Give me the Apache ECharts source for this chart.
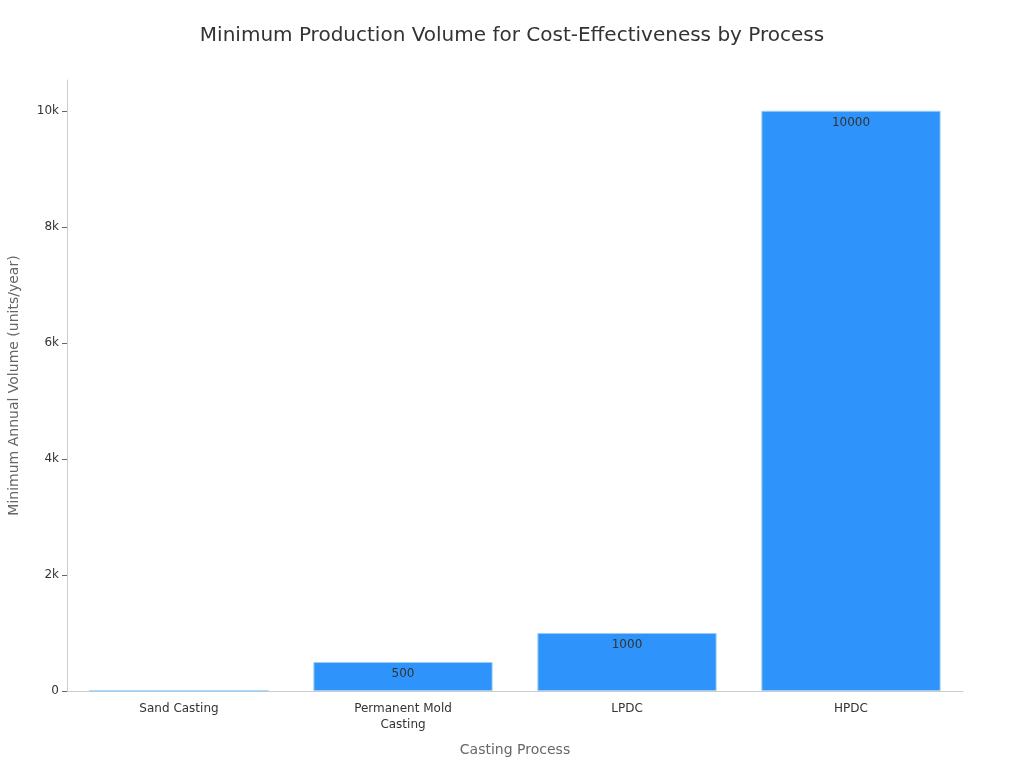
<!DOCTYPE html>
<html>
<head>
<meta charset="utf-8">
<script src="https://cdn.jsdelivr.net/npm/echarts@6/dist/echarts.min.js"></script>
<style>
  html, body { margin: 0; padding: 0; background: #fff; }
  #chart-container { width: 1024px; height: 768px; }
</style>
</head>
<body>
<div id="chart-container"></div>
<script>
// Datos del gráfico
const procesos = ['Sand Casting', 'Permanent Mold\nCasting', 'LPDC', 'HPDC'];
const volumenMinimo = [0, 500, 1000, 10000];

let myChart = echarts.init(document.getElementById('chart-container'), null, {
  renderer: 'canvas'
});

const opciones = {
  backgroundColor: '#fff',
  textStyle: { fontFamily: 'DejaVu Sans' },
  title: {
    text: 'Minimum Production Volume for Cost-Effectiveness by Process',
    left: 'center',
    top: 21,
    textStyle: { fontSize: 20, fontWeight: 'normal', color: '#333', fontFamily: 'DejaVu Sans' }
  },
  grid: { left: 67, right: 61, top: 80, bottom: 77, containLabel: false, outerBoundsMode: 'none' },
  xAxis: {
    type: 'category',
    data: procesos,
    name: 'Casting Process',
    nameLocation: 'middle',
    nameGap: 52,
    nameTextStyle: { fontSize: 14, color: '#666' },
    axisLine: { lineStyle: { color: '#ccc' } },
    axisTick: { alignWithLabel: true, lineStyle: { color: '#999' } },
    axisLabel: { fontSize: 12, color: '#333', margin: 10, lineHeight: 16 }
  },
  yAxis: {
    type: 'value',
    min: 0,
    max: 10530,
    interval: 2000,
    name: 'Minimum Annual Volume (units/year)',
    nameLocation: 'middle',
    nameGap: 46,
    nameTextStyle: { fontSize: 14, color: '#666' },
    axisLine: { show: true, lineStyle: { color: '#ccc' } },
    axisTick: { show: true, length: 5, lineStyle: { color: '#666' } },
    splitLine: { show: false },
    axisLabel: {
      fontSize: 12,
      color: '#333',
      margin: 8,
      showMaxLabel: false,
      formatter: (v) => v === 0 ? '0' : (v / 1000) + 'k'
    }
  },
  series: [{
    type: 'bar',
    data: volumenMinimo,
    barWidth: '80%',
    itemStyle: {
      color: '#2E93FA',
      borderColor: '#9CCBF5',
      borderWidth: 1
    },
    label: {
      show: true,
      position: 'insideTop',
      distance: 6,
      fontSize: 12,
      color: '#333',
      formatter: (p) => p.value === 0 ? '' : String(p.value)
    }
  }]
};

myChart.setOption(opciones, true);
window.addEventListener('resize', myChart.resize);
</script>
</body>
</html>
